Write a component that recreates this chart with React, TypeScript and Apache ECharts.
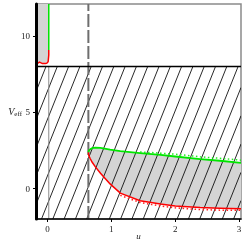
import React, { useEffect, useRef } from 'react';
import * as echarts from 'echarts';

const xTicks = [0, 1, 2, 3];
const yTicks = [0, 5, 10];
const uMin = -0.18;
const uMax = 3.03;
const vMin = -2;
const vMax = 12.1;
const vBarrier = 8.0;
const uDashed = 0.64;
const uThin = 0.02;

// lower-right region (shared u grid)
const uLower = [0.64, 0.645, 0.655, 0.67, 0.7, 0.75, 0.83, 0.98, 1.14, 1.45, 1.77, 2.0, 2.39, 2.7, 3.03];
const greenLower = [2.37, 2.45, 2.52, 2.58, 2.65, 2.68, 2.66, 2.55, 2.45, 2.32, 2.2, 2.1, 1.93, 1.82, 1.68];
const redLower = [2.37, 2.2, 2.08, 1.95, 1.72, 1.42, 1.0, 0.3, -0.3, -0.8, -1.02, -1.14, -1.25, -1.3, -1.33];

// dotted companions
const uGreenDot = [1.45, 1.77, 2.0, 2.39, 2.7, 3.03];
const vGreenDot = [2.4, 2.32, 2.25, 2.08, 1.98, 1.86];
const uRedDot = [1.14, 1.45, 1.77, 2.0, 2.39, 2.7, 3.03];
const vRedDot = [-0.45, -0.92, -1.15, -1.27, -1.38, -1.42, -1.42];

// top-left region
const uTop = [0.02, 0.02, 0.01, -0.01, -0.03, -0.08, -0.125, -0.15, -0.18];
const redTop = [9.08, 8.75, 8.31, 8.22, 8.19, 8.19, 8.29, 8.22, 8.16];
const uGreenTop = [0.02, 0.02];
const vGreenTop = [12.1, 9.08];

const zip = (u: number[], v: number[]) => u.map((x, i) => [x, v[i]]);

export default function App() {
  const ref = useRef<HTMLDivElement>(null);
  useEffect(() => {
    if (!ref.current) return;
    const chart = echarts.init(ref.current, null, { renderer: 'svg' });

    const lowerPoly = [...zip(uLower, greenLower), ...zip(uLower, redLower).reverse()];
    const topPoly = [[uMin, vMax], [uGreenTop[0], vMax], ...zip(uTop, redTop)];

    const polySeries = (poly: number[][]) => ({
      type: 'custom',
      silent: true,
      z: 1,
      clip: true,
      data: [[0, 0]],
      renderItem: (_p: any, api: any) => ({
        type: 'polygon',
        shape: { points: poly.map((p) => api.coord(p)) },
        style: { fill: '#d4d4d4', stroke: null },
      }),
    });

    const lineSeries = (data: number[][], color: string, width: number, dash: any = null, z = 5, smooth = 0) => ({
      type: 'custom',
      silent: true,
      z,
      clip: true,
      data: [[0, 0]],
      renderItem: (_p: any, api: any) => ({
        type: 'polyline',
        shape: { points: data.map((p) => api.coord(p)), smooth },
        style: { stroke: color, lineWidth: width, fill: null, lineDash: dash },
      }),
    });

    const serif = 'Liberation Serif';

    chart.setOption({
      animation: false,
      grid: {
        left: 36,
        right: 4,
        top: 4,
        bottom: 26,
        outerBoundsMode: 'none',
        containLabel: false,
        show: true,
        borderColor: '#8a8a8a',
        borderWidth: 1.5,
      },
      xAxis: {
        type: 'value',
        min: uMin,
        max: uMax,
        name: 'u',
        nameLocation: 'middle',
        nameGap: 12,
        nameMoveOverlap: false,
        nameTextStyle: { fontFamily: serif, fontStyle: 'italic', fontSize: 9, color: '#222' },
        axisLine: { show: true, onZero: false, lineStyle: { color: '#000', width: 1.5 } },
        axisTick: { show: true, length: 3, customValues: xTicks, lineStyle: { color: '#000' } },
        axisLabel: { customValues: xTicks, fontFamily: serif, fontSize: 9, color: '#222', margin: 5 },
        splitLine: { show: false },
        z: 10,
      },
      yAxis: {
        type: 'value',
        min: vMin,
        max: vMax,
        name: '{v|V}{s|eff}',
        nameLocation: 'middle',
        nameRotate: 0,
        nameGap: 14,
        nameMoveOverlap: false,
        nameTextStyle: {
          rich: {
            v: { fontFamily: serif, fontStyle: 'italic', fontSize: 10, color: '#222' },
            s: { fontFamily: serif, fontSize: 7, color: '#222', padding: [5, 0, 0, 0] },
          },
        },
        axisLine: { show: true, onZero: false, lineStyle: { color: '#000', width: 3 } },
        axisTick: { show: true, length: 3, customValues: yTicks, lineStyle: { color: '#000' } },
        axisLabel: { customValues: yTicks, fontFamily: serif, fontSize: 9, color: '#222', margin: 6 },
        splitLine: { show: false },
        z: 10,
      },
      series: [
        polySeries(lowerPoly),
        polySeries(topPoly),
        {
          type: 'custom',
          silent: true,
          z: 2,
          clip: true,
          data: [[0, 0]],
          renderItem: (_p: any, api: any) => {
            const bl = api.coord([uMin, vMin]);
            const tr = api.coord([uMax, vBarrier]);
            const xl = bl[0], yb = bl[1], xr = tr[0], yt = tr[1];
            const H = yb - yt;
            const k = 2.5;
            const sp = 11.3;
            const dx = H / k;
            const children: any[] = [];
            let start = xl + 10;
            while (start - dx > xl - sp) start -= sp;
            for (let xt = start; xt - dx < xr + sp; xt += sp) {
              const t0 = Math.max(0, (xt - xr) / dx);
              const t1 = Math.min(1, (xt - xl) / dx);
              if (t0 >= t1) continue;
              children.push({
                type: 'line',
                shape: { x1: xt - t0 * dx, y1: yt + t0 * H, x2: xt - t1 * dx, y2: yt + t1 * H },
                style: { stroke: '#111', lineWidth: 0.9 },
              });
            }
            return { type: 'group', children };
          },
        },
        lineSeries([[uThin, vMin], [uThin, vBarrier]], '#8a8a8a', 1, null, 3),
        lineSeries([[uDashed, vMin], [uDashed, vMax]], '#6e6e6e', 2, [13, 3], 3),
        lineSeries([[uMin, vBarrier], [uMax, vBarrier]], '#000', 1.5, null, 6),
        lineSeries(zip(uGreenDot, vGreenDot), '#22ee22', 1.5, [1.5, 2.5], 5),
        lineSeries(zip(uRedDot, vRedDot), '#ff2020', 1.5, [1.5, 2.5], 5),
        lineSeries(zip(uLower, greenLower), '#00e600', 1.8),
        lineSeries(zip(uLower, redLower), '#ff0000', 1.5),
        lineSeries(zip(uGreenTop, vGreenTop), '#00e600', 1.5),
        lineSeries(zip(uTop, redTop), '#ff0000', 1.5),
      ],
    });
    return () => chart.dispose();
  }, []);
  return <div ref={ref} style={{ position: 'fixed', left: 0, top: 0, width: 245, height: 245 }} />;
}
